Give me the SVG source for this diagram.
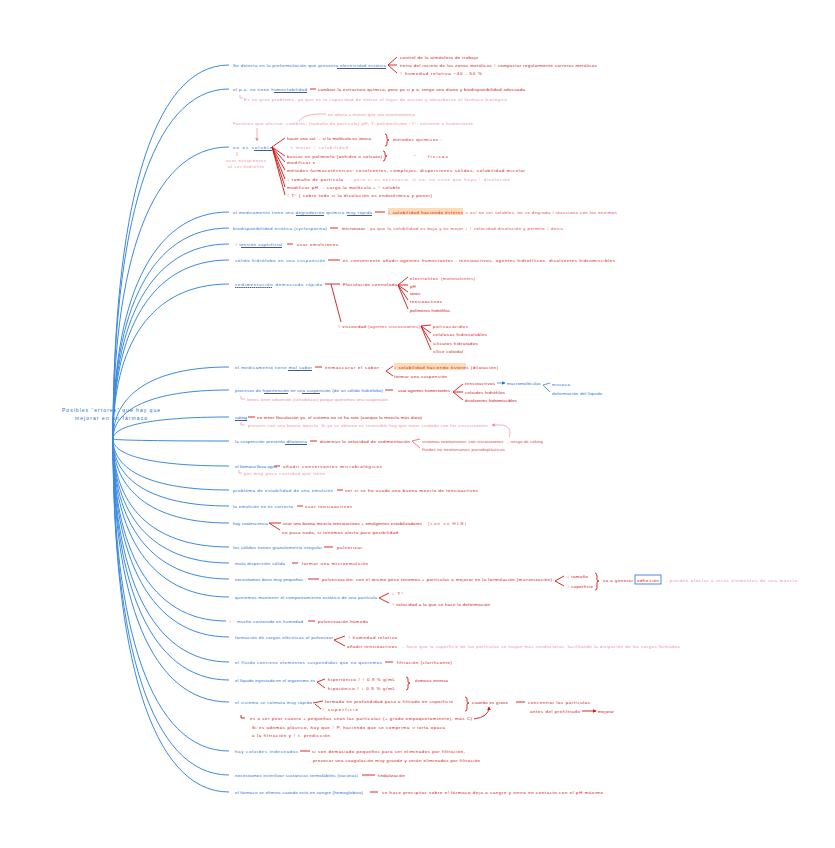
<svg xmlns="http://www.w3.org/2000/svg" width="835" height="848" viewBox="0 0 835 848">
<defs>
<style>
.t{font-family:"Liberation Sans",Arial,sans-serif;font-size:4.4px}
.b{fill:#1f6fd6}.r{fill:#cf1010}.l{fill:#e0474c}.p{fill:#f28da0}
.c{fill:none;stroke:#3a8ae0;stroke-width:1}
.rc{fill:none;stroke:#d41414;stroke-width:0.9}
.lc{fill:none;stroke:#e0474c;stroke-width:0.7}
.pc{fill:none;stroke:#f28da0;stroke-width:0.7}
.bc{fill:none;stroke:#1f6fd6;stroke-width:0.7}
.u{stroke:#1c2c7a;stroke-width:0.8}
.hl{fill:#ffdcb8}
</style>
<marker id="ar" viewBox="0 0 6 6" refX="5" refY="3" markerWidth="4" markerHeight="4" orient="auto"><path d="M0 0L6 3L0 6z" fill="#d41414"/></marker>
<marker id="ap" viewBox="0 0 6 6" refX="5" refY="3" markerWidth="5" markerHeight="5" orient="auto"><path d="M0 0L6 3L0 6z" fill="#f28da0"/></marker>
<marker id="ab" viewBox="0 0 6 6" refX="5" refY="3" markerWidth="5" markerHeight="5" orient="auto"><path d="M0 0L6 3L0 6z" fill="#1f6fd6"/></marker>
</defs>
<rect width="835" height="848" fill="#fff"/>
<g id="connectors">
<path class="c" d="M113 439C113 215 150 65 229 65"/>
<path class="c" d="M113 439C113 229 150 89 229 89"/>
<path class="c" d="M113 439C113 264 150 147 229 147"/>
<path class="c" d="M113 439C113 303 150 212 229 212"/>
<path class="c" d="M113 439C113 312 150 228 229 228"/>
<path class="c" d="M113 439C113 322 150 244 229 244"/>
<path class="c" d="M113 439C113 332 150 260 229 260"/>
<path class="c" d="M113 439C113 346 150 284 229 284"/>
<path class="c" d="M113 439C113 396 150 367 229 367"/>
<path class="c" d="M113 439C113 410 150 390 229 390"/>
<path class="c" d="M113 439C113 426 150 417 229 417"/>
<path class="c" d="M113 439C113 440 150 441 229 441"/>
<path class="c" d="M113 439C113 455 150 466 229 466"/>
<path class="c" d="M113 439C113 470 150 490 229 490"/>
<path class="c" d="M113 439C113 479 150 506 229 506"/>
<path class="c" d="M113 439C113 489 150 523 229 523"/>
<path class="c" d="M113 439C113 504 150 547 229 547"/>
<path class="c" d="M113 439C113 513 150 563 229 563"/>
<path class="c" d="M113 439C113 523 150 579 229 579"/>
<path class="c" d="M113 439C113 534 150 597 229 597"/>
<path class="c" d="M113 439C113 548 150 621 226 621"/>
<path class="c" d="M113 439C113 558 150 637 229 637"/>
<path class="c" d="M113 439C113 572 150 662 229 662"/>
<path class="c" d="M113 439C113 584 150 680 229 680"/>
<path class="c" d="M113 439C113 597 150 702 229 702"/>
<path class="c" d="M113 439C113 626 150 751 229 751"/>
<path class="c" d="M113 439C113 641 150 775 229 775"/>
<path class="c" d="M113 439C113 651 150 792 229 792"/>
<!-- underlines -->
<line class="u" x1="337" y1="68.5" x2="386" y2="68.5"/>
<line class="u" x1="274" y1="92.5" x2="307" y2="92.5"/>
<line class="u" x1="254" y1="150.5" x2="272" y2="150.5"/>
<line class="u" x1="296" y1="215.5" x2="324" y2="215.5"/>
<line class="u" x1="347" y1="215.5" x2="372" y2="215.5"/>
<line class="u" x1="241" y1="247.5" x2="282" y2="247.5"/>
<line class="u" x1="235" y1="287.5" x2="272" y2="287.5" stroke-dasharray="1.5 0.6"/>
<line class="u" x1="288" y1="370.5" x2="312" y2="370.5"/>
<line class="u" x1="264" y1="393.5" x2="288" y2="393.5"/>
<line class="u" x1="302" y1="393.5" x2="320" y2="393.5"/>
<line class="u" x1="235" y1="420.5" x2="247" y2="420.5"/>
<line class="u" x1="285" y1="444.5" x2="307" y2="444.5"/>
<!-- n1 -->
<path class="rc" d="M397 57L388 65L397 73M388 65L397 65"/>
<!-- n2 -->
<line class="rc" x1="310" y1="89" x2="316" y2="89"/>
<path class="pc" d="M240 95L240 98L243 98"/>
<!-- n3/n4 pink -->
<path class="pc" d="M299 121Q304 113 326 114"/>
<line class="pc" x1="257" y1="128" x2="257" y2="141" marker-end="url(#ap)"/>
<line class="pc" x1="237" y1="152" x2="237" y2="156"/>
<!-- n4 fan -->
<path class="rc" d="M272 147L285 138M272 147L285 156M272 147L285 162M272 147L285 170M272 147L285 179M272 147L285 187M272 147L285 195"/>
<path class="rc" d="M385 134Q387 134 387 137L387 139Q387 140 389 140Q387 140 387 142L387 144Q387 146 385 146"/>
<path class="rc" d="M383 151Q385 151 385 153L385 155Q385 156 387 156Q385 156 385 158L385 159Q385 161 383 161"/>
<!-- n5 -->
<line class="rc" x1="375" y1="212" x2="385" y2="212"/>
<!-- n6 -->
<line class="rc" x1="330" y1="228" x2="338" y2="228"/>
<!-- n7 -->
<line class="rc" x1="287" y1="244" x2="293" y2="244"/>
<!-- n8 -->
<line class="rc" x1="328" y1="260" x2="340" y2="260"/>
<!-- n9 -->
<path class="rc" d="M325 284L340 284M331 284L341 322"/>
<path class="rc" d="M398 285L408 277M398 285L408 285M398 285L408 292M398 285L408 300M398 285L408 309"/>
<path class="rc" d="M421 326L431 325M421 326L431 333M421 326L431 342M421 326L431 350"/>
<!-- n10 -->
<line class="rc" x1="315" y1="367" x2="322" y2="367"/>
<path class="rc" d="M393 366L386 371L393 376"/>
<!-- n11 -->
<line class="rc" x1="385" y1="390" x2="393" y2="390"/>
<path class="rc" d="M463 384L453 392L463 400M453 392L463 392"/>
<line class="bc" x1="497" y1="383" x2="505" y2="383" marker-end="url(#ab)"/>
<path class="bc" d="M550 383L543 385L550 392"/>
<path class="pc" d="M241 396L241 399L245 399"/>
<!-- n12 -->
<line class="rc" x1="248" y1="417" x2="255" y2="417"/>
<path class="pc" d="M241 422L241 425L245 425"/>
<path class="pc" d="M509 437C512 430 508 425 500 425L492 425" marker-end="url(#ap)"/>
<!-- n13 -->
<line class="rc" x1="310" y1="441" x2="317" y2="441"/>
<path class="lc" d="M420 439L412 441L420 448"/>
<!-- n14 -->
<line class="rc" x1="274" y1="466" x2="280" y2="466"/>
<path class="pc" d="M239 470L239 473L242 473"/>
<!-- n15 -->
<line class="rc" x1="337" y1="490" x2="343" y2="490"/>
<!-- n16 -->
<line class="rc" x1="297" y1="506" x2="303" y2="506"/>
<!-- n17 -->
<path class="rc" d="M281 523L269 523L280 530"/>
<!-- n18 -->
<line class="rc" x1="324" y1="547" x2="333" y2="547"/>
<!-- n19 -->
<line class="rc" x1="292" y1="563" x2="298" y2="563"/>
<!-- n20 -->
<line class="rc" x1="308" y1="579" x2="319" y2="579"/>
<path class="rc" d="M564 576L555 581L564 586"/>
<path class="rc" d="M595 573Q597 573 597 576L597 580Q597 581 599 581Q597 581 597 583L597 588Q597 590 595 590"/>
<rect x="635" y="575" width="26" height="9" fill="none" stroke="#1f6fd6" stroke-width="0.8"/>
<!-- n21 -->
<path class="rc" d="M389 593L379 598L389 603"/>
<!-- n22 -->
<line class="rc" x1="308" y1="621" x2="315" y2="621"/>
<!-- n23 -->
<path class="rc" d="M345 636L334 640L345 646"/>
<!-- n24 -->
<line class="rc" x1="385" y1="662" x2="393" y2="662"/>
<!-- n25 -->
<path class="rc" d="M325 679L317 682L325 688"/>
<path class="rc" d="M406 677Q408 677 408 679L408 682Q408 683 410 683Q408 683 408 685L408 688Q408 690 406 690"/>
<!-- n26 -->
<path class="rc" d="M323 701L313 703M315 704L321 709"/>
<path class="rc" d="M465 697Q467 697 467 699L467 702Q467 703 469 703Q467 703 467 705L467 709Q467 711 465 711"/>
<line class="rc" x1="516" y1="702" x2="525" y2="702"/>
<line class="rc" x1="582" y1="711" x2="596" y2="711" marker-end="url(#ar)"/>
<path class="rc" d="M241 715L241 718L245 718"/>
<path class="rc" d="M474 719Q489 717 489 707" marker-end="url(#ar)"/>
<!-- n27 -->
<line class="rc" x1="300" y1="751" x2="310" y2="751"/>
<!-- n28 -->
<line class="rc" x1="362" y1="775" x2="375" y2="775"/>
<!-- n29 -->
<line class="rc" x1="370" y1="792" x2="378" y2="792"/>
</g>
<g id="hub">
<text class="t b" style="font-size:5px" x="62" y="412" textLength="98">Posibles “errores” que hay que</text>
<text class="t b" style="font-size:5px" x="75" y="420" textLength="72">mejorar en un fármaco</text>
</g>
<g id="n1">
<text class="t b" x="233" y="67" textLength="153">Se detecta en la preformulación que presenta electricidad estática</text>
<text class="t r" x="400" y="59" textLength="78">control de la atmósfera de trabajo</text>
<text class="t r" x="400" y="67" textLength="197">tierra del recinto de las zonas metálicas ↑ compactar regularmente carreras metálicas</text>
<text class="t r" x="400" y="75" textLength="82">↑ humedad relativa ~40 - 50 %</text>
</g>
<g id="n2">
<text class="t b" x="233" y="91" textLength="74">el p.a. no tiene humectabilidad</text>
<text class="t r" x="318" y="91" textLength="207">cambiar la estructura química, pero ya si p.a. tengo una diana y biodisponibilidad adecuada</text>
<text class="t p" x="244" y="101" textLength="263">Es un gran problema, ya que es la capacidad de entrar al lugar de acción y absorberse el fármaco biológico</text>
</g>
<g id="n3">
<text class="t p" x="328" y="116" textLength="87">no afecta a menos que sea enantiomérica</text>
<text class="t p" x="233" y="125" textLength="240">Factores que afectan: cambios, (tamaño de partícula) pH, T, polimorfismo ↑T°, solvente o humectante</text>
</g>
<g id="n4">
<text class="t b" x="233" y="149" textLength="39">no es soluble</text>
<text class="t p" x="226" y="162" textLength="40">usar excipientes</text>
<text class="t p" x="228" y="168" textLength="36">al ser hidrófilo</text>
<text class="t r" x="287" y="140" textLength="84">hacer una sal → si la molécula es iónica</text>
<text class="t p" x="290" y="149" textLength="58">↳ mejor ↑ solubilidad</text>
<text class="t r" x="393" y="141" textLength="49">métodos químicos :</text>
<text class="t r" x="287" y="158" textLength="95">buscar un polimorfo (anhidro o solvato)</text>
<text class="t r" x="414" y="158">"</text>
<text class="t r" x="428" y="158" textLength="20">físicos</text>
<text class="t r" x="287" y="164" textLength="28">modificar ε</text>
<text class="t r" x="287" y="172" textLength="238">métodos farmacotécnicos: cosolventes, complejos, dispersiones sólidas, solubilidad micelar</text>
<text class="t r" x="287" y="181" textLength="56">↓ tamaño de partícula</text>
<text class="t p" x="347" y="181" textLength="163">→ pero si es necesario, si no, no sirve que haya ↑ disolución</text>
<text class="t r" x="287" y="189" textLength="113">modificar pH → carga la molécula + ↑ soluble</text>
<text class="t r" x="287" y="197" textLength="145">↑ T° ( sobre todo si la disolución es endotérmica y poner)</text>
</g>
<g id="n5">
<text class="t b" x="233" y="214" textLength="139">el medicamento tiene una degradación química muy rápida</text>
<rect class="hl" x="388" y="208" width="75" height="7"/>
<text class="t r" x="388" y="214" textLength="75">↓ solubilidad haciendo ésteres</text>
<text class="t l" x="465" y="214" textLength="152">⇒ así no ser solubles, no se degrada / reacciona con las enzimas</text>
</g>
<g id="n6">
<text class="t b" x="233" y="230" textLength="94">biodisponibilidad errática (cyclosporina)</text>
<text class="t r" x="342" y="230" textLength="23">micronizar</text>
<text class="t l" x="370" y="230" textLength="193">ya que la solubilidad es baja y es mejor ↓ ↑ velocidad disolución y permite ↓ dosis</text>
</g>
<g id="n7">
<text class="t b" x="235" y="246" textLength="47">↑ tensión superficial</text>
<text class="t r" x="297" y="246" textLength="41">usar emulsiones</text>
</g>
<g id="n8">
<text class="t b" x="235" y="262" textLength="90">sólido hidrófobo en una suspensión</text>
<text class="t r" x="343" y="262" textLength="272">es conveniente añadir agentes humectantes : tensioactivos, agentes hidrofílicos, disolventes hidromiscibles</text>
</g>
<g id="n9">
<text class="t b" x="235" y="286" textLength="87">sedimentación demasiado rápida</text>
<text class="t r" x="343" y="286" textLength="54">Floculación controlada</text>
<text class="t r" x="410" y="280" textLength="28">electrolitos</text>
<text class="t l" x="441" y="280" textLength="34">(monovalentes)</text>
<text class="t r" x="410" y="288">pH</text>
<text class="t r" x="410" y="295">iones</text>
<text class="t r" x="410" y="303" textLength="32">tensioactivos</text>
<text class="t r" x="410" y="312" textLength="40">polímeros hidrófilos</text>
<text class="t r" x="338" y="328" textLength="28">↑ viscosidad</text>
<text class="t l" x="368" y="328" textLength="52">(agentes viscosizantes)</text>
<text class="t r" x="433" y="328" textLength="35">polisacáridos</text>
<text class="t r" x="433" y="336" textLength="54">celulosas hidrosolubles</text>
<text class="t r" x="433" y="345" textLength="45">silicatos hidratados</text>
<text class="t r" x="433" y="353" textLength="30">sílice coloidal</text>
</g>
<g id="n10">
<text class="t b" x="235" y="369" textLength="77">el medicamento tiene mal sabor</text>
<text class="t r" x="325" y="369" textLength="58">enmascarar el sabor :</text>
<rect class="hl" x="394" y="363" width="72" height="7"/>
<text class="t r" x="394" y="369" textLength="104">↓ solubilidad haciendo ésteres (dilatación)</text>
<text class="t r" x="394" y="378" textLength="53">formar una suspensión</text>
</g>
<g id="n11">
<text class="t b" x="235" y="392" textLength="148">procesos de hipertensión en una suspensión (de un sólido hidrófobo)</text>
<text class="t r" x="398" y="392" textLength="52">usar agentes humectantes</text>
<text class="t r" x="465" y="385" textLength="30">tensioactivos</text>
<text class="t b" x="507" y="385" textLength="34">macromoléculas</text>
<text class="t b" x="552" y="386" textLength="18">mucosa</text>
<text class="t b" x="552" y="395" textLength="50">deformación del líquido</text>
<text class="t r" x="465" y="394" textLength="40">coloides hidrófilos</text>
<text class="t r" x="465" y="402" textLength="52">disolventes hidromiscibles</text>
<text class="t p" x="247" y="401" textLength="141">tienes tener adsorción (sensibilizar) porque queremos una suspensión</text>
</g>
<g id="n12">
<text class="t b" x="235" y="419" textLength="12">caking</text>
<text class="t r" x="257" y="419" textLength="165">no tener floculación ya, el sistema no se ha roto (aunque la mezcla más dura)</text>
<text class="t p" x="248" y="427" textLength="240">prevenir con una buena mezcla. Si ya se obtiene es reversible hay que tener cuidado con los viscosizantes</text>
</g>
<g id="n13">
<text class="t b" x="235" y="443" textLength="72">la suspensión presenta dilatancia</text>
<text class="t r" x="320" y="443" textLength="90">disminuir la velocidad de sedimentación</text>
<text class="t l" x="422" y="443" textLength="121">sistemas newtonianos: con viscosizantes → riesgo de caking</text>
<text class="t l" x="422" y="451" textLength="83">fluidos no newtonianos pseudoplásticos</text>
</g>
<g id="n14">
<text class="t b" x="235" y="468" textLength="42">el fármaco lleva agua</text>
<text class="t r" x="283" y="468" textLength="99">añadir conservantes microbiológicos</text>
<text class="t p" x="244" y="475" textLength="81">por muy poca cantidad que tiene</text>
</g>
<g id="n15">
<text class="t b" x="233" y="492" textLength="100">problema de estabilidad de una emulsión</text>
<text class="t r" x="345" y="492" textLength="133">ver si se ha usado una buena mezcla de tensioactivos</text>
</g>
<g id="n16">
<text class="t b" x="233" y="508" textLength="60">la emulsión no es correcta</text>
<text class="t r" x="305" y="508" textLength="47">usar tensioactivos</text>
</g>
<g id="n17">
<text class="t b" x="233" y="525" textLength="35">hay coalescencia</text>
<text class="t r" x="283" y="525" textLength="139">usar una buena mezcla tensioactivos + emulgentes estabilizadores</text>
<text class="t l" x="428" y="525" textLength="38">(con su HLB)</text>
<text class="t r" x="282" y="534" textLength="116">no pasa nada, si tenemos alerta para posibilidad</text>
</g>
<g id="n18">
<text class="t b" x="233" y="549" textLength="89">los sólidos tienen granulometría irregular</text>
<text class="t r" x="337" y="549" textLength="25">pulverizar</text>
</g>
<g id="n19">
<text class="t b" x="235" y="565" textLength="50">mala dispersión sólida</text>
<text class="t r" x="302" y="565" textLength="66">formar una microemulsión</text>
</g>
<g id="n20">
<text class="t b" x="235" y="581" textLength="68">necesitamos dosis muy pequeñas</text>
<text class="t r" x="322" y="581" textLength="230">pulverización: con el mismo peso tenemos + partículas a mejorar en la formulación (micronización)</text>
<text class="t r" x="567" y="578" textLength="21">↓ tamaño</text>
<text class="t r" x="567" y="588" textLength="26">↑ superficie</text>
<text class="t r" x="603" y="582" textLength="30">va a generar</text>
<text class="t r" x="637" y="582" textLength="22">adhesión</text>
<text class="t p" x="663" y="582" textLength="134">→ pueden afectar a otros elementos de una mezcla</text>
</g>
<g id="n21">
<text class="t b" x="235" y="599" textLength="142">queremos mantener el comportamiento estático de una partícula</text>
<text class="t r" x="392" y="595" textLength="11">↓ T°</text>
<text class="t r" x="392" y="606" textLength="98">↑ velocidad a la que se hace la deformación</text>
</g>
<g id="n22">
<text class="t r" x="229" y="623">↑</text>
<text class="t b" x="237" y="623" textLength="66">mucho contenido en humedad</text>
<text class="t r" x="318" y="623" textLength="50">pulverización húmeda</text>
</g>
<g id="n23">
<text class="t b" x="235" y="639" textLength="98">formación de cargas eléctricas al pulverizar</text>
<text class="t r" x="348" y="639" textLength="49">↑ humedad relativa</text>
<text class="t r" x="347" y="648" textLength="50">añadir tensioactivos</text>
<text class="t p" x="400" y="648" textLength="280">→ hace que la superficie de las partículas se hagan más conductoras, facilitando la disipación de las cargas formadas</text>
</g>
<g id="n24">
<text class="t b" x="235" y="664" textLength="147">el fluido contiene elementos suspendidos que no queremos</text>
<text class="t r" x="397" y="664" textLength="55">filtración (clarificante)</text>
</g>
<g id="n25">
<text class="t b" x="235" y="682" textLength="80">el líquido inyectado en el organismo es</text>
<text class="t r" x="328" y="681" textLength="67">hipertónico / ↑ 0.9 % g/mL</text>
<text class="t r" x="328" y="690" textLength="67">hipotónico / ↓ 0.9 % g/mL</text>
<text class="t r" x="415" y="682" textLength="33">ósmosis inversa</text>
</g>
<g id="n26">
<text class="t b" x="235" y="704" textLength="77">el sistema se colmata muy rápido</text>
<text class="t r" x="325" y="703" textLength="128">formado en profundidad pasa a filtrado en superficie</text>
<text class="t r" x="322" y="711" textLength="36">↑ superficie</text>
<text class="t r" x="472" y="704" textLength="36">cuando es grave</text>
<text class="t r" x="528" y="704" textLength="62">concentrar las partículas</text>
<text class="t r" x="530" y="713" textLength="50">antes del prefiltrado</text>
<text class="t r" x="598" y="713" textLength="16">mejorar</text>
<text class="t r" x="250" y="720" textLength="222">es a ser peor cuanto + pequeñas sean las partículas (+ grado empaquetamiento), más C)</text>
<text class="t r" x="252" y="729" textLength="193">Si es además plástico, hay que ↑ P, haciendo que se comprima ⇒ torta opaca</text>
<text class="t r" x="252" y="737" textLength="78">a la filtración y ↑ t. predicción</text>
</g>
<g id="n27">
<text class="t b" x="235" y="753" textLength="63">hay coloides indeseados</text>
<text class="t r" x="312" y="753" textLength="153">si son demasiado pequeños para ser eliminados por filtración,</text>
<text class="t r" x="313" y="762" textLength="167">provocar una coagulación muy grande y serán eliminados por filtración</text>
</g>
<g id="n28">
<text class="t b" x="235" y="777" textLength="123">necesitamos esterilizar sustancias termolábiles (vacunas)</text>
<text class="t r" x="378" y="777" textLength="27">tindalización</text>
</g>
<g id="n29">
<text class="t b" x="235" y="794" textLength="128">el fármaco se elimina cuando está en sangre (hemoglobina)</text>
<text class="t r" x="382" y="794" textLength="221">se hace precipitar sobre el fármaco deja a sangre y entra en contacto con el pH máximo</text>
</g>
</svg>
